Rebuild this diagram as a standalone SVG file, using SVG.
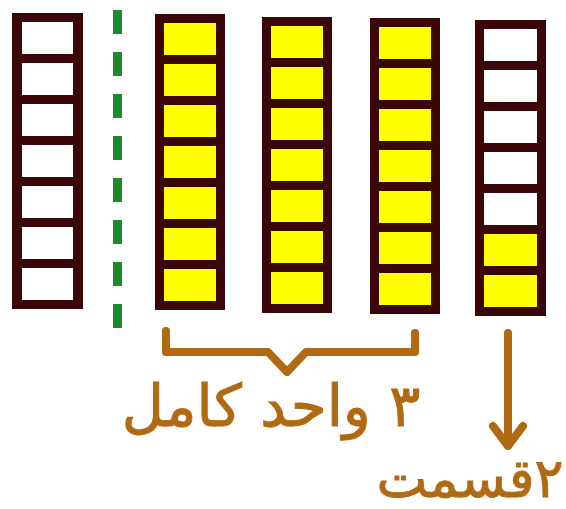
<svg xmlns="http://www.w3.org/2000/svg" width="566" height="509" viewBox="0 0 566 509">
<style>
.frame{fill:#3a0608}
.e{fill:#ffffff}
.y{fill:#ffff00}
.lbl{font-family:"DejaVu Sans",sans-serif;fill:#b06a12;font-size:58px;stroke:#b06a12;stroke-width:1}
.br{fill:none;stroke:#b06a12;stroke-width:8;stroke-linecap:round;stroke-linejoin:round}
</style>
<rect width="566" height="509" fill="#ffffff"/>
<g id="col1">
<rect class="frame" x="12" y="13" width="71" height="296"/>
<rect class="e" x="22" y="22" width="51" height="32"/>
<rect class="e" x="22" y="63" width="51" height="32"/>
<rect class="e" x="22" y="104" width="51" height="32"/>
<rect class="e" x="22" y="145" width="51" height="32"/>
<rect class="e" x="22" y="186" width="51" height="32"/>
<rect class="e" x="22" y="227" width="51" height="32"/>
<rect class="e" x="22" y="268" width="51" height="32"/>
</g>
<g id="divider">
<line x1="117.5" y1="10" x2="117.5" y2="333" stroke="#1a8a2a" stroke-width="9" stroke-dasharray="24 18"/>
</g>
<g id="col2">
<rect class="frame" x="155" y="14" width="70" height="296"/>
<rect class="y" x="164" y="23" width="52" height="32"/>
<rect class="y" x="164" y="64" width="52" height="32"/>
<rect class="y" x="164" y="105" width="52" height="32"/>
<rect class="y" x="164" y="146" width="52" height="32"/>
<rect class="y" x="164" y="187" width="52" height="32"/>
<rect class="y" x="164" y="228" width="52" height="32"/>
<rect class="y" x="164" y="269" width="52" height="32"/>
</g>
<g id="col3">
<rect class="frame" x="262" y="17" width="70" height="296"/>
<rect class="y" x="271" y="26" width="52" height="32"/>
<rect class="y" x="271" y="67" width="52" height="32"/>
<rect class="y" x="271" y="108" width="52" height="32"/>
<rect class="y" x="271" y="149" width="52" height="32"/>
<rect class="y" x="271" y="190" width="52" height="32"/>
<rect class="y" x="271" y="231" width="52" height="32"/>
<rect class="y" x="271" y="272" width="52" height="32"/>
</g>
<g id="col4">
<rect class="frame" x="370" y="18" width="70" height="296"/>
<rect class="y" x="379" y="27" width="52" height="32"/>
<rect class="y" x="379" y="68" width="52" height="32"/>
<rect class="y" x="379" y="109" width="52" height="32"/>
<rect class="y" x="379" y="150" width="52" height="32"/>
<rect class="y" x="379" y="191" width="52" height="32"/>
<rect class="y" x="379" y="232" width="52" height="32"/>
<rect class="y" x="379" y="273" width="52" height="32"/>
</g>
<g id="col5">
<rect class="frame" x="475" y="20" width="71" height="296"/>
<rect class="e" x="484" y="29" width="53" height="32"/>
<rect class="e" x="484" y="70" width="53" height="32"/>
<rect class="e" x="484" y="111" width="53" height="32"/>
<rect class="e" x="484" y="152" width="53" height="32"/>
<rect class="e" x="484" y="193" width="53" height="32"/>
<rect class="y" x="484" y="234" width="53" height="32"/>
<rect class="y" x="484" y="275" width="53" height="32"/>
</g>
<g id="connectors">
<path class="br" d="M166 331 V352 H268 L287 372 L306 352 H415 V333"/>
<path class="br" d="M508 333 V446 M493 426 L508 446 L523 426"/>
</g>
<g id="label1">
<text class="lbl" x="271" y="426" text-anchor="middle" direction="rtl">۳ واحد کامل</text>
</g>
<g id="label2">
<text class="lbl" x="470" y="497" text-anchor="middle" direction="rtl" style="font-size:54px">۲قسمت</text>
</g>
</svg>
